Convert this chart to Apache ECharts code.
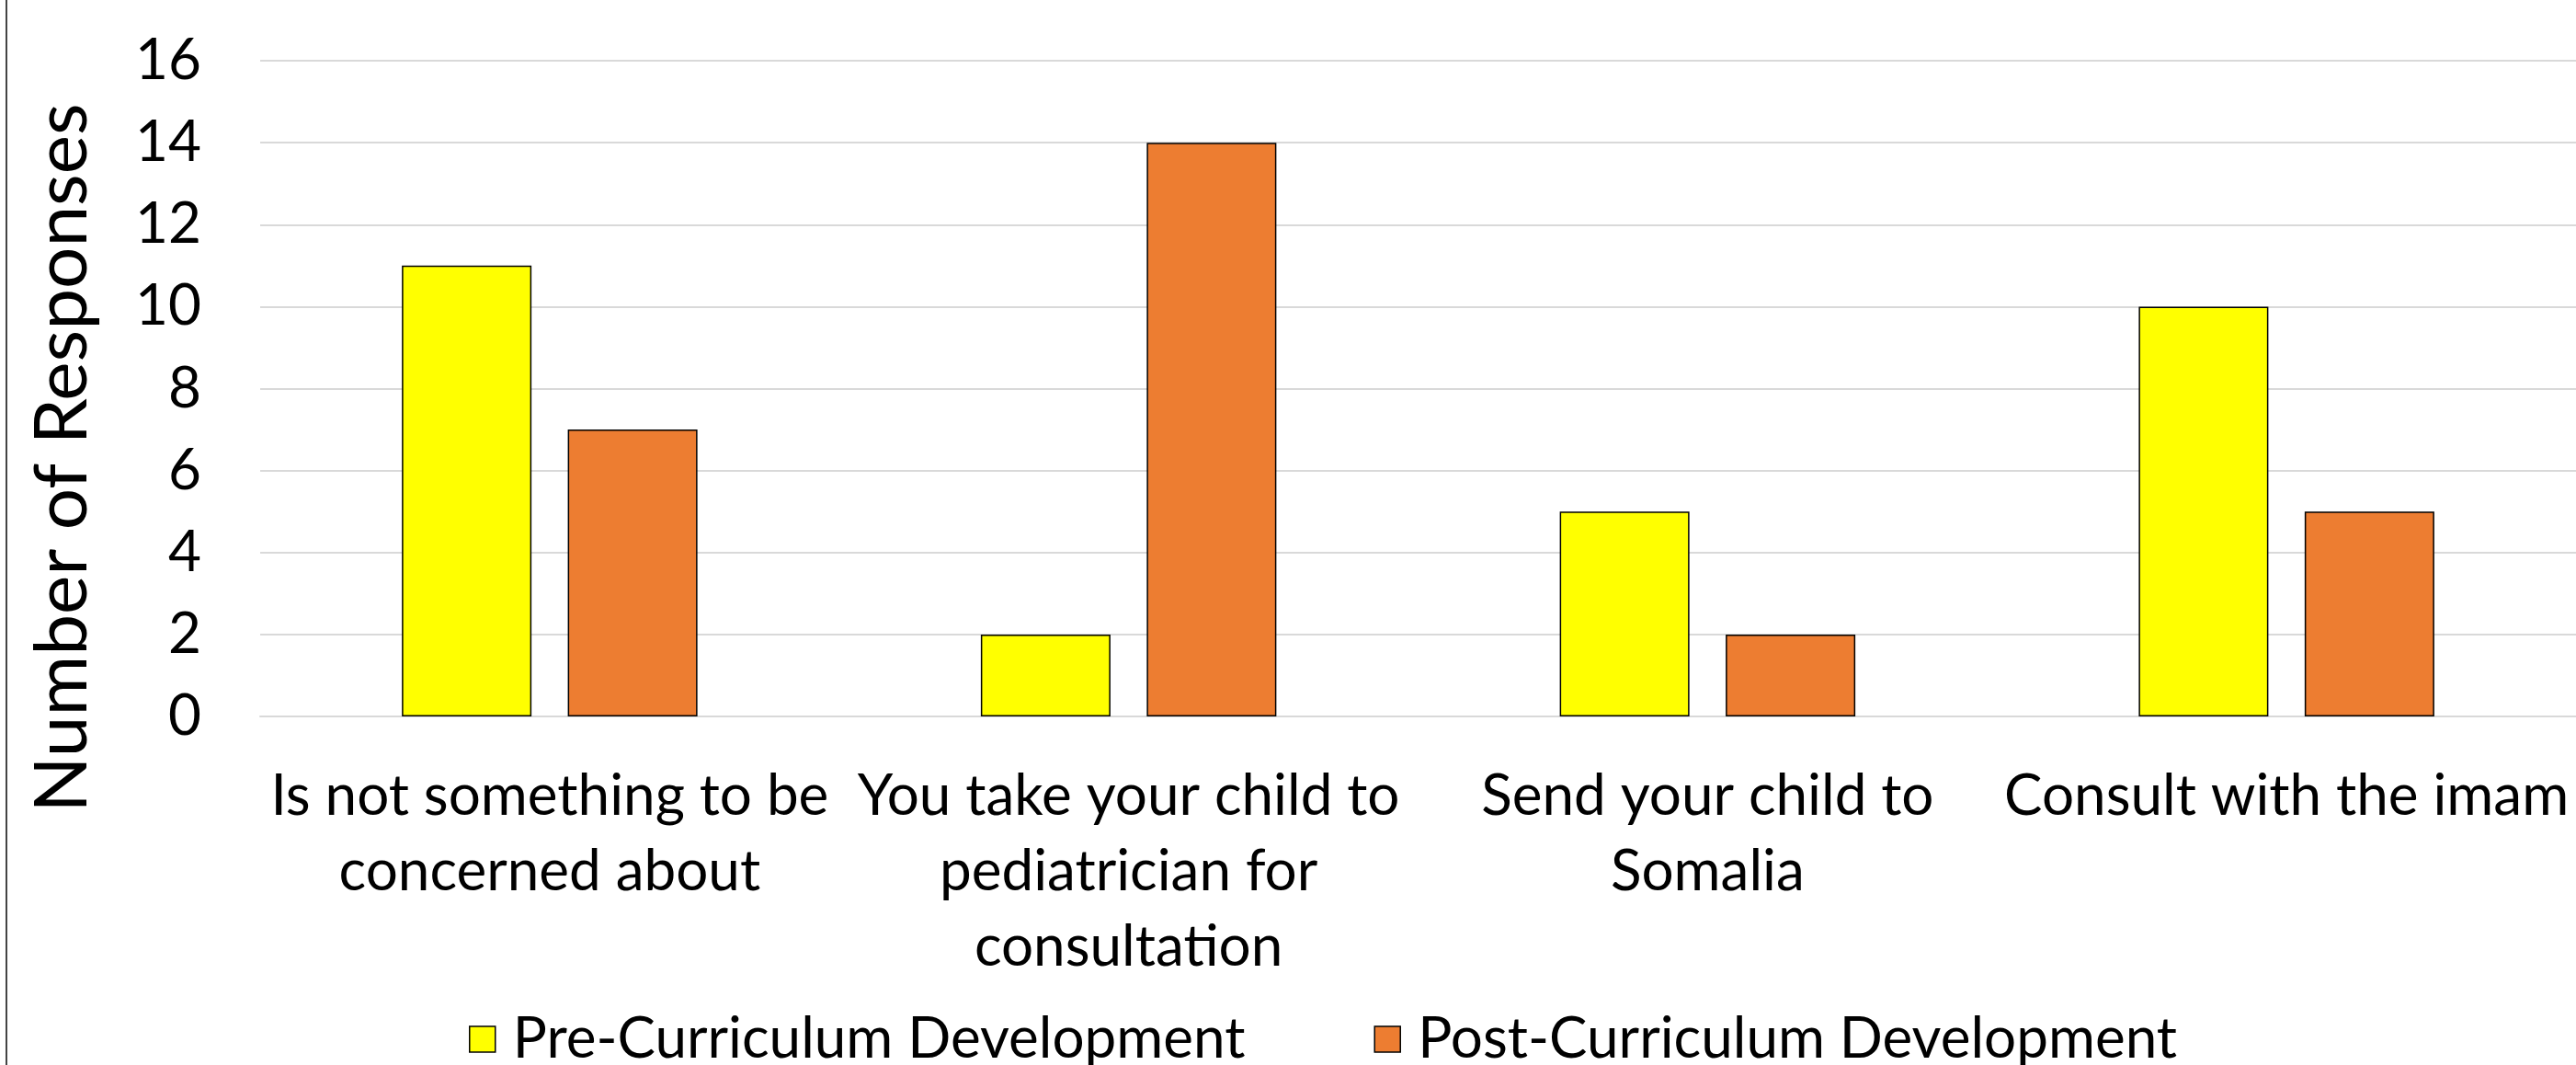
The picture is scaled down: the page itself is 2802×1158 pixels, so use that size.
<!DOCTYPE html>
<html>
<head>
<meta charset="utf-8">
<script src="https://cdn.jsdelivr.net/npm/echarts@6/dist/echarts.min.js"></script>
<style>
html,body{margin:0;padding:0;background:#fff;}
#chart{width:2802px;height:1158px;}
</style>
</head>
<body>
<div id="chart"></div>
<script>
const categories = [
  "Is not something to be\nconcerned about",
  "You take your child to\npediatrician for\nconsultation",
  "Send your child to\nSomalia",
  "Consult with the imam"
];
const preValues = [11, 2, 5, 10];
const postValues = [7, 14, 2, 5];
const seriesNames = ["Pre-Curriculum Development", "Post-Curriculum Development"];
const yTicks = { min: 0, max: 16, interval: 2 };
const yTitle = "Number of Responses";

const FONT = "Lato";
const chart = echarts.init(document.getElementById('chart'));
chart.setOption({
  animation: false,
  backgroundColor: '#ffffff',
  textStyle: { fontFamily: FONT },
  grid: { left: 283, right: -1, top: 66, bottom: 379, containLabel: false },
  legend: {
    data: seriesNames,
    icon: 'rect',
    left: 505, top: 1094,
    itemWidth: 28, itemHeight: 28, itemGap: 140,
    textStyle: { fontFamily: FONT, fontSize: 62, color: '#000', padding: [0,0,0,14] },
    itemStyle: { borderColor: '#000', borderWidth: 1.5 }
  },
  graphic: [
    { type: 'line', shape: { x1: 7, y1: 0, x2: 7, y2: 1158 }, style: { stroke: '#444', lineWidth: 2 } },
    { type: 'text', x: 68, y: 498, rotation: Math.PI / 2,
      style: { text: yTitle, font: '80px ' + FONT, fill: '#000', align: 'center', verticalAlign: 'middle' } }
  ],
  xAxis: {
    type: 'category',
    data: categories,
    axisLine: { show: true, lineStyle: { color: '#D9D9D9', width: 2 } },
    axisTick: { show: false },
    axisLabel: { interval: 0, fontFamily: FONT, fontSize: 62, color: '#000', lineHeight: 82, margin: 46, align: 'center' }
  },
  yAxis: {
    type: 'value',
    min: yTicks.min, max: yTicks.max, interval: yTicks.interval,
    axisLine: { show: false },
    axisTick: { show: false },
    splitLine: { lineStyle: { color: '#D9D9D9', width: 2 } },
    axisLabel: { fontFamily: FONT, fontSize: 62, color: '#000', margin: 64 }
  },
  series: [
    { name: seriesNames[0], type: 'bar', data: preValues, barWidth: 141, barGap: '28%',
      itemStyle: { color: '#FFFF00', borderColor: '#000', borderWidth: 1.5 } },
    { name: seriesNames[1], type: 'bar', data: postValues, barWidth: 141, barGap: '28%',
      itemStyle: { color: '#ED7D31', borderColor: '#000', borderWidth: 1.5 } }
  ]
});
</script>
</body>
</html>
